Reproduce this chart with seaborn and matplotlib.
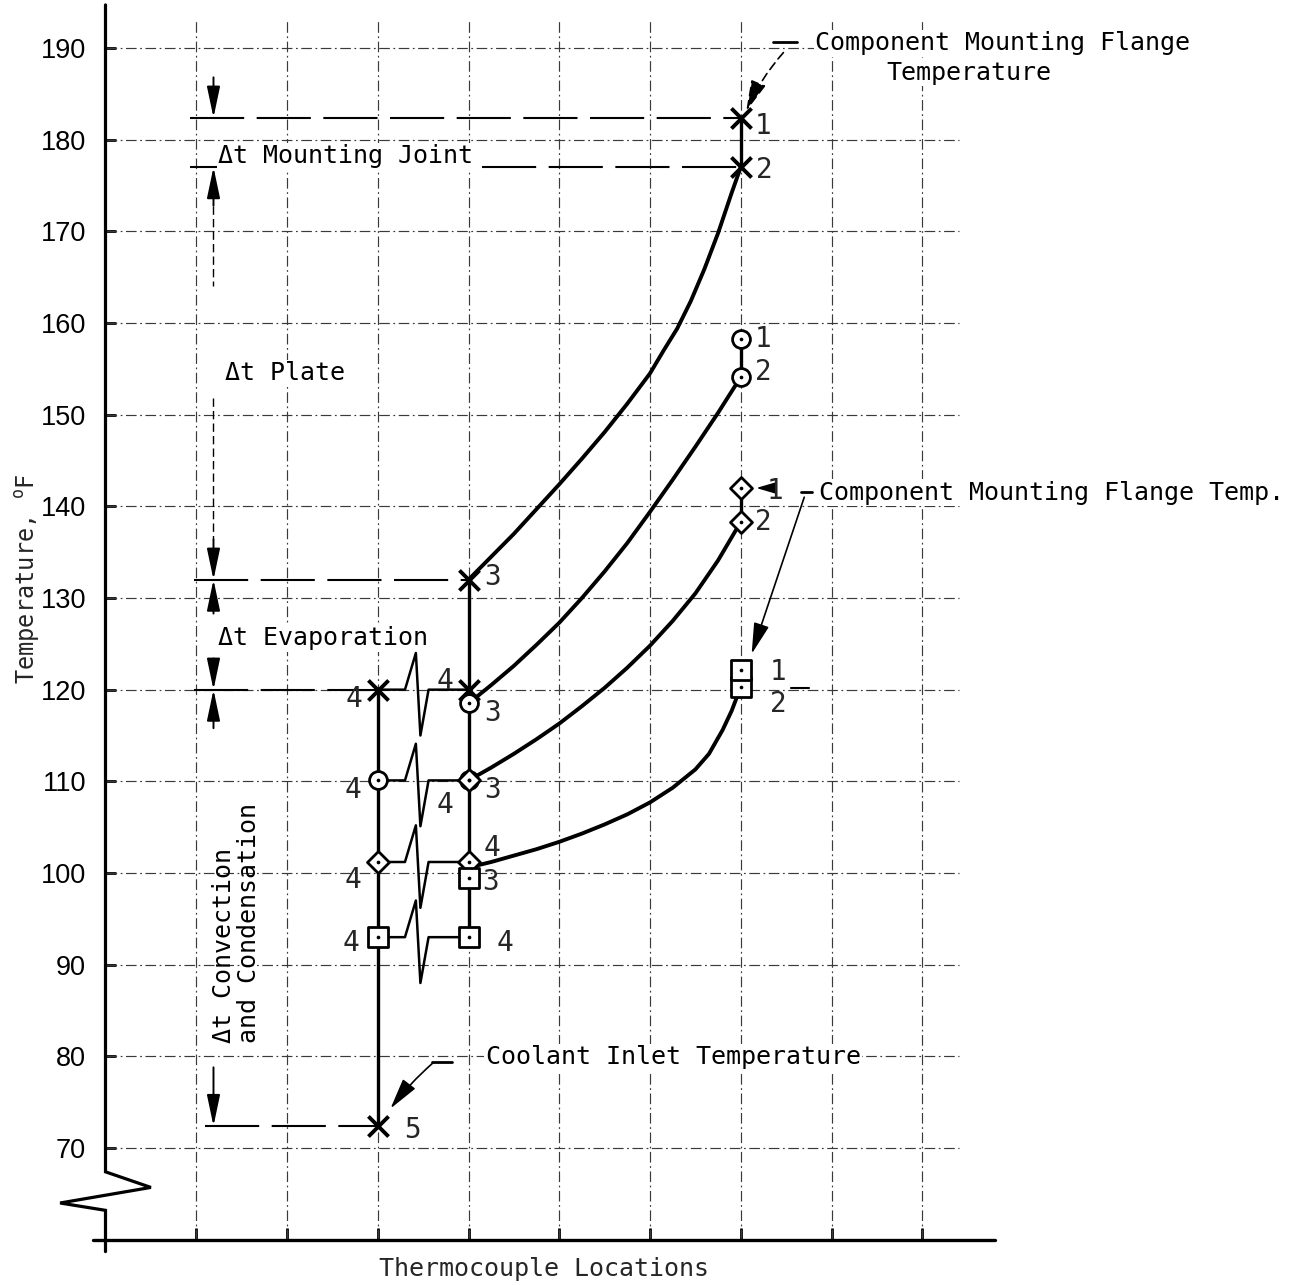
import matplotlib
matplotlib.use("Agg")
import matplotlib.pyplot as plt
from matplotlib import font_manager
import seaborn as sns

# ---------------------------------------------------------------------------
# Thermocouple readings (deg F) by location along the horizontal axis
# ---------------------------------------------------------------------------
cross_loc = [3, 3, 4, 4, 7, 7]
cross_temp = [72.4, 120.0, 120.0, 132.0, 177.0, 182.4]
cross_tc = ["5", "4", "4", "3", "2", "1"]

circle_loc = [3, 4, 4, 7, 7]
circle_temp = [110.1, 110.1, 118.5, 154.1, 158.3]
circle_tc = ["4", "4", "3", "2", "1"]

diamond_loc = [3, 4, 4, 7, 7]
diamond_temp = [101.2, 101.2, 110.1, 138.3, 142.0]
diamond_tc = ["4", "4", "3", "2", "1"]

square_loc = [3, 4, 4, 7, 7]
square_temp = [93.0, 93.0, 99.5, 120.3, 122.1]
square_tc = ["4", "4", "3", "2", "1"]

# Faired curves from location 4 to the mounting flange (location 7)
cross_curve_loc = [4.0, 4.25, 4.5, 4.75, 5.0, 5.25, 5.5, 5.75, 6.0,
                   6.15, 6.3, 6.45, 6.6, 6.75, 6.9, 7.0]
cross_curve_temp = [132.0, 134.5, 137.0, 139.7, 142.4, 145.2, 148.1, 151.2, 154.5,
                    157.0, 159.4, 162.4, 165.9, 169.8, 174.2, 177.0]
circle_curve_loc = [4.0, 4.25, 4.5, 4.75, 5.0, 5.25, 5.5, 5.75, 6.0,
                    6.25, 6.5, 6.75, 7.0]
circle_curve_temp = [118.5, 120.5, 122.6, 124.9, 127.3, 130.0, 132.9, 136.0, 139.4,
                     142.9, 146.5, 150.2, 154.1]
diamond_curve_loc = [4.0, 4.25, 4.5, 4.75, 5.0, 5.25, 5.5, 5.75, 6.0,
                     6.25, 6.5, 6.75, 7.0]
diamond_curve_temp = [110.1, 111.5, 113.0, 114.6, 116.3, 118.2, 120.2, 122.4, 124.8,
                      127.5, 130.5, 134.1, 138.3]
square_curve_loc = [4.0, 4.25, 4.5, 4.75, 5.0, 5.25, 5.5, 5.75, 6.0,
                    6.25, 6.5, 6.65, 6.8, 6.9, 7.0]
square_curve_temp = [100.6, 101.2, 101.9, 102.6, 103.4, 104.3, 105.3, 106.4, 107.7,
                     109.3, 111.3, 113.0, 115.6, 117.7, 120.3]

y_ticks = [70, 80, 90, 100, 110, 120, 130, 140, 150, 160, 170, 180, 190]
x_ticks = [1, 2, 3, 4, 5, 6, 7, 8, 9]

# ---------------------------------------------------------------------------
# Styling
# ---------------------------------------------------------------------------
sns.set_style("white")
MONO = "DejaVu Sans Mono"
plt.rcParams["font.family"] = [MONO, "DejaVu Sans"]
plt.rcParams["mathtext.fontset"] = "dejavusans"
_names = {f.name for f in font_manager.fontManager.ttflist}
if "Liberation Sans Narrow" in _names:
    TICK_FONT, TICK_SIZE = "Liberation Sans Narrow", 21
else:
    TICK_FONT, TICK_SIZE = "Liberation Sans", 19.5

INK = "black"
GRID_LS = (0, (9, 3, 1.5, 3))
EXT_LS = (0, (26, 6))

fig = plt.figure(figsize=(12.96, 12.85), dpi=100)
ax = fig.add_axes([105.5 / 1296, 45.33 / 1285, 1188.5 / 1296, 1239.67 / 1285])
for s in ax.spines.values():
    s.set_visible(False)

# ---------------------------------------------------------------------------
# Curves, stems and breaks (seaborn line plots)
# ---------------------------------------------------------------------------
def trace(xs, ys, lw, z=3, ls="-"):
    sns.lineplot(x=list(xs), y=list(ys), sort=False, estimator=None,
                 color=INK, linewidth=lw, linestyle=ls, ax=ax, zorder=z,
                 legend=False)

series = [
    dict(loc=cross_loc, temp=cross_temp, tc=cross_tc,
         cloc=cross_curve_loc, ctemp=cross_curve_temp),
    dict(loc=circle_loc, temp=circle_temp, tc=circle_tc,
         cloc=circle_curve_loc, ctemp=circle_curve_temp),
    dict(loc=diamond_loc, temp=diamond_temp, tc=diamond_tc,
         cloc=diamond_curve_loc, ctemp=diamond_curve_temp),
    dict(loc=square_loc, temp=square_temp, tc=square_tc,
         cloc=square_curve_loc, ctemp=square_curve_temp),
]

# faired curves
for s in series:
    trace(s["cloc"], s["ctemp"], 2.8)

# vertical stems at locations 3 and 4 span every reading taken there
for station in (3, 4):
    temps = [t for s in series for l, t in zip(s["loc"], s["temp"]) if l == station]
    trace([station, station], [min(temps), max(temps)], 2.4)

# stems joining the two flange readings of each series at location 7
for s in series:
    temps = [t for l, t in zip(s["loc"], s["temp"]) if l == 7]
    trace([7, 7], [min(temps), max(temps)], 2.4)

# broken connectors between point 4 at location 3 and at location 4
brk_dx = [0.0, 0.30, 0.42, 0.47, 0.56, 1.0]
brk_dy = [0.0, 0.0, 4.0, -5.0, 0.0, 0.0]
for s in series:
    y4 = [t for l, t in zip(s["loc"], s["temp"]) if l == 3][-1]
    trace([3 + d for d in brk_dx], [y4 + d for d in brk_dy], 1.8)

# ---------------------------------------------------------------------------
# Markers
# ---------------------------------------------------------------------------
mk = [("x", 210, 2.8), ("o", 165, 2.0), ("D", 125, 2.0), ("s", 190, 2.0)]
for s, (m, size, lw) in zip(series, mk):
    if m == "x":
        sns.scatterplot(x=s["loc"], y=s["temp"], marker=m, s=size, color=INK,
                        linewidth=lw, ax=ax, zorder=5, legend=False)
    else:
        sns.scatterplot(x=s["loc"], y=s["temp"], marker=m, s=size,
                        facecolor="white", edgecolor=INK, linewidth=lw,
                        ax=ax, zorder=4, legend=False)
        sns.scatterplot(x=s["loc"], y=s["temp"], marker="o", s=7, color=INK,
                        linewidth=0, ax=ax, zorder=6, legend=False)

# thermocouple numbers (offsets in points)
tc_offsets = [
    [(25, -3), (-17, -7), (-17, 6), (17, 2), (17, -2), (16, -6)],
    [(-18, -7), (-17, -18), (17, -7), (16, 4), (16, 0)],
    [(-18, -13), (17, 10), (17, -7), (16, 0), (25, -2)],
    [(-19, -4), (26, -4), (16, -3), (27, -12), (27, -1)],
]
for s, offs in zip(series, tc_offsets):
    for l, t, lab, off in zip(s["loc"], s["temp"], s["tc"], offs):
        ax.annotate(lab, xy=(l, t), xytext=off, textcoords="offset points",
                    ha="center", va="center", fontsize=20, family=MONO,
                    zorder=7)

# ---------------------------------------------------------------------------
# Grid (dash-dot), axes with break, ticks
# ---------------------------------------------------------------------------
for yv in y_ticks:
    ax.plot([0, 9.4], [yv, yv], color="#3a3a3a", lw=0.85, ls=GRID_LS, zorder=1)
for xv in x_ticks:
    ax.plot([xv, xv], [60, 193], color="#3a3a3a", lw=0.85, ls=GRID_LS, zorder=1)

ax.plot([0, 0, 0.5, -0.5, 0, 0], [194.7, 67.4, 65.7, 64.0, 63.2, 58.7],
        color=INK, lw=2.3, clip_on=False, zorder=3, solid_joinstyle="miter")
ax.plot([-0.14, 9.8], [60, 60], color=INK, lw=2.4, clip_on=False, zorder=3)

ax.set_xlim(0, 1188.5 / 90.75)
ax.set_ylim(60, 195.236)
ax.set_yticks(y_ticks)
ax.set_yticklabels([str(v) for v in y_ticks])
ax.set_xticks(x_ticks)
ax.set_xticklabels([])
ax.tick_params(axis="y", direction="in", length=7, width=2, pad=14,
               labelsize=TICK_SIZE, colors=INK, left=True)
ax.tick_params(axis="x", direction="in", length=9, width=2, colors=INK,
               bottom=True)
for lab in ax.get_yticklabels():
    lab.set_family(TICK_FONT)

ax.set_xlabel("Thermocouple Locations", fontsize=18, family=MONO)
ax.xaxis.set_label_coords(4.83 / (1188.5 / 90.75), -0.0236)
ax.xaxis.label.set_va("center")
ax.set_ylabel(r"Temperature, $^{\mathtt{o}}$F", fontsize=17, family=MONO)
ax.yaxis.set_label_coords(-0.0655, 0.533)
ax.yaxis.label.set_va("center")

# ---------------------------------------------------------------------------
# Temperature-drop dimension marks
# ---------------------------------------------------------------------------
dim_x = 1.19
t_inlet, t_evap_lo, t_evap_hi = cross_temp[0], cross_temp[1], cross_temp[3]
t_mount_lo, t_mount_hi = cross_temp[4], cross_temp[5]

ext = [(t_mount_hi, 0.93, 7.0), (t_mount_lo, 0.93, 1.24), (t_mount_lo, 4.15, 7.0),
       (t_evap_hi, 0.98, 4.0), (t_evap_lo, 0.98, 3.0), (t_inlet, 1.1, 3.0)]
for yv, x0, x1 in ext:
    ax.plot([x0, x1], [yv, yv], color=INK, lw=1.5, ls=EXT_LS, zorder=2)

dim_style = "-|>,head_length=1.9,head_width=0.4"
arrows = [(t_mount_hi, 186.8), (t_mount_lo, 172.8), (t_evap_hi, 136.4),
          (t_evap_hi, 128.3), (t_evap_lo, 123.4), (t_evap_lo, 115.8),
          (t_inlet, 78.8)]
for tip, tail in arrows:
    ax.annotate("", xy=(dim_x, tip), xytext=(dim_x, tail),
                arrowprops=dict(arrowstyle=dim_style, color=INK, lw=1.4,
                                shrinkA=0, shrinkB=0, mutation_scale=10),
                zorder=3)
for y0, y1 in [(172.8, 164.0), (151.8, 136.4)]:
    ax.plot([dim_x, dim_x], [y0, y1], color=INK, lw=1.0, ls=(0, (6, 3)), zorder=2)

box = dict(facecolor="white", edgecolor="none", pad=1.0)
txt = dict(fontsize=18, family=MONO, color=INK, zorder=2.5)
ax.text(1.245, 178.2, "Δt Mounting Joint", ha="left", va="center", bbox=box, **txt)
ax.text(1.32, 154.5, "Δt Plate", ha="left", va="center", bbox=box, **txt)
ax.text(1.245, 125.6, "Δt Evaporation", ha="left", va="center", bbox=box, **txt)
ax.text(1.44, 81.5, "Δt Convection\nand Condensation", rotation=90,
        ha="center", va="bottom", multialignment="left", linespacing=1.05,
        **txt)

# ---------------------------------------------------------------------------
# Callouts
# ---------------------------------------------------------------------------
lead = dict(arrowstyle="-|>,head_length=1.6,head_width=0.4", color=INK,
            lw=1.2, shrinkA=0, shrinkB=0, mutation_scale=12)

ax.text(7.82, 190.5, "Component Mounting Flange", ha="left", va="center",
        bbox=box, **txt)
ax.text(9.51, 187.3, "Temperature", ha="center", va="center", bbox=box, **txt)
ax.plot([7.36, 7.62], [190.6, 190.6], color=INK, lw=2.0, zorder=3)
ax.annotate("", xy=(7.06, 183.1), xytext=(7.47, 189.5),
            arrowprops=dict(lead, linestyle=(0, (5, 3)),
                            connectionstyle="arc3,rad=0.08"), zorder=3)

ax.text(7.86, 141.5, "Component Mounting Flange Temp.", ha="left",
        va="center", bbox=box, **txt)
ax.annotate("", xy=(7.17, 142.0), xytext=(7.33, 142.0),
            arrowprops=dict(arrowstyle="-|>,head_length=1.2,head_width=0.35",
                            color=INK, lw=1.2, shrinkA=0, shrinkB=0,
                            mutation_scale=10), zorder=3)
ax.plot([7.66, 7.79], [141.6, 141.6], color=INK, lw=2.0, zorder=3)
ax.annotate("", xy=(7.12, 123.9), xytext=(7.70, 141.0),
            arrowprops=lead, zorder=3)
ax.plot([7.55, 7.75], [120.2, 120.2], color=INK, lw=1.5, zorder=3)

ax.text(4.19, 79.9, "Coolant Inlet Temperature", ha="left", va="center",
        bbox=box, **txt)
ax.plot([3.60, 3.82], [79.4, 79.4], color=INK, lw=2.0, zorder=3)
ax.annotate("", xy=(3.14, 74.3), xytext=(3.61, 79.3),
            arrowprops=dict(lead, connectionstyle="arc3,rad=0.05"), zorder=3)

fig.savefig("out.png", dpi=100, facecolor="white")
